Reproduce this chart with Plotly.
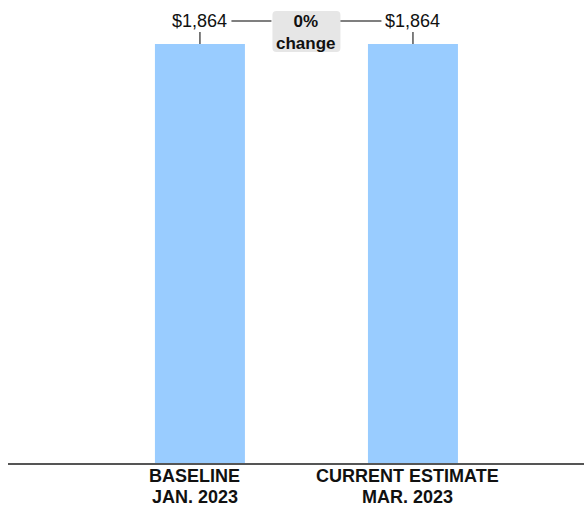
import plotly.graph_objects as go

# Cost estimate comparison
categories = ["BASELINE", "CURRENT ESTIMATE"]
dates = ["JAN. 2023", "MAR. 2023"]
values = [1864, 1864]
change_pct = 0

x_pos = list(range(len(categories)))
font_family = "Liberation Sans, Arial, sans-serif"
bar_color = "#99CCFF"
line_color = "#555555"
text_color = "#111111"

fig = go.Figure(
    go.Bar(
        x=x_pos,
        y=values,
        width=0.4225,
        marker=dict(color=bar_color, line=dict(width=0)),
        hoverinfo="skip",
    )
)

annotations = []
shapes = []

# value labels above each bar, with a short leader tick
for xi, v in zip(x_pos, values):
    annotations.append(dict(
        x=xi, y=v, xref="x", yref="y", text=f"${v:,.0f}", showarrow=False,
        yanchor="middle", yshift=23, font=dict(size=18, color=text_color, family=font_family),
    ))
    shapes.append(dict(
        type="line", xref="x", yref="y", xsizemode="pixel", ysizemode="pixel",
        xanchor=xi, yanchor=v, x0=0, x1=0, y0=0, y1=12,
        line=dict(color=line_color, width=1.5),
    ))

# category labels under the axis
for xi, cat, d in zip(x_pos, categories, dates):
    annotations.append(dict(
        x=xi, y=0, xref="x", yref="y", text=f"<b>{cat}</b>", showarrow=False,
        yanchor="middle", yshift=-13, xshift=-5,
        font=dict(size=18, color=text_color, family=font_family),
    ))
    annotations.append(dict(
        x=xi, y=0, xref="x", yref="y", text=f"<b>{d}</b>", showarrow=False,
        yanchor="middle", yshift=-33.5, xshift=-5,
        font=dict(size=18, color=text_color, family=font_family),
    ))

# change badge between the two bars
mid_x = sum(x_pos) / len(x_pos)
top_v = max(values)
r = 4
left, right, bottom, top = -34, 34, -8, 33
badge_path = (
    f"M {left + r},{bottom} L {right - r},{bottom} Q {right},{bottom} {right},{bottom + r} "
    f"L {right},{top - r} Q {right},{top} {right - r},{top} "
    f"L {left + r},{top} Q {left},{top} {left},{top - r} "
    f"L {left},{bottom + r} Q {left},{bottom} {left + r},{bottom} Z"
)
shapes.append(dict(
    type="path", xref="x", yref="y", xsizemode="pixel", ysizemode="pixel",
    xanchor=mid_x, yanchor=top_v, path=badge_path,
    fillcolor="#E6E6E6", line=dict(width=0), layer="above",
))
for x0, x1 in [(-75, -35), (34, 75)]:
    shapes.append(dict(
        type="line", xref="x", yref="y", xsizemode="pixel", ysizemode="pixel",
        xanchor=mid_x, yanchor=top_v, x0=x0, x1=x1, y0=23, y1=23,
        line=dict(color=line_color, width=1.5),
    ))
annotations.append(dict(
    x=mid_x, y=top_v, xref="x", yref="y", text=f"<b>{change_pct}%<br>change</b>",
    showarrow=False, yanchor="middle", yshift=12,
    font=dict(size=17, color=text_color, family=font_family),
))

fig.update_layout(
    width=584, height=507,
    margin=dict(l=8, r=0, t=0, b=44),
    paper_bgcolor="white", plot_bgcolor="white",
    showlegend=False,
    xaxis=dict(range=[-0.901, 1.803], showticklabels=False, ticks="", showgrid=False,
               zeroline=False, showline=True, linecolor=line_color, linewidth=2, fixedrange=True),
    yaxis=dict(range=[0, top_v * 463 / 419], visible=False, showgrid=False, zeroline=False,
               fixedrange=True),
    annotations=annotations,
    shapes=shapes,
)

fig.write_html("out.html")
